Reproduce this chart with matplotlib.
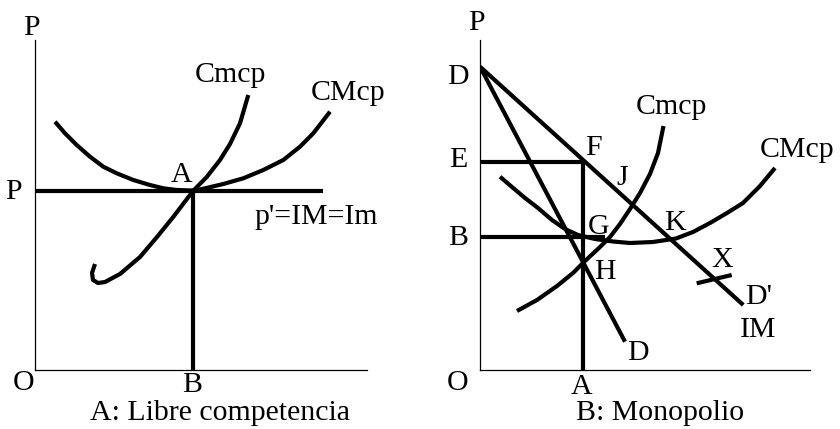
import matplotlib
matplotlib.use("Agg")
import matplotlib.pyplot as plt

plt.rcParams['font.family'] = ['Liberation Serif', 'DejaVu Serif']

# Panel A: libre competencia
cmcp_a_x = [6.0, 5.7, 5.8, 6.3, 7.0, 8.5, 10.5, 12.2, 13.9, 15.8, 17.17, 18.5, 19.5, 20.5, 21.33]
cmcp_a_y = [10.6, 9.7, 9.0, 8.7, 8.8, 9.6, 11.3, 13.3, 15.4, 17.9, 19.3, 21.0, 22.6, 24.67, 27.5]
cmecp_a_x = [2.0, 3.0, 4.17, 5.5, 6.83, 8.17, 9.83, 11.5, 12.83, 14.17, 15.6, 16.5, 18.83,
             20.83, 22.83, 24.83, 26.5, 27.83, 29.5]
cmecp_a_y = [24.83, 23.67, 22.5, 21.33, 20.33, 19.67, 19.0, 18.5, 18.17, 18.0, 17.95, 18.05,
             18.6, 19.17, 20.0, 21.0, 22.33, 23.67, 25.83]
precio_a = 17.9
q_a = 15.8
precio_a_fin = 28.8

# Panel B: monopolio
d_x = [0.0, 26.33]
d_y = [30.33, 6.5]
im_x = [0.0, 14.5]
im_y = [30.33, 2.83]
cmcp_b_x = [3.7, 5.7, 7.7, 9.3, 10.5, 12.0, 13.0, 14.0, 15.0, 16.0, 17.0, 17.8, 18.35]
cmcp_b_y = [5.9, 7.0, 8.4, 9.7, 10.9, 12.3, 13.3, 14.6, 16.1, 17.7, 19.6, 21.7, 24.4]
cmecp_b_x = [2.0, 3.2, 4.5, 5.8, 7.2, 8.5, 9.8, 11.5, 13.3, 15.0, 17.3, 19.6, 21.3, 23.0,
             24.7, 26.3, 28.0, 29.5]
cmecp_b_y = [19.33, 18.3, 17.2, 16.2, 15.0, 14.1, 13.5, 13.1, 12.85, 12.7, 12.8, 13.15, 13.8,
             14.7, 15.7, 16.7, 18.4, 20.2]
q_b = 10.33
precio_e = 20.83
precio_b = 13.33
precio_b_fin = 12.5
x_seg_x = [21.67, 25.17]
x_seg_y = [8.67, 9.5]

labels_a = [("P", -0.33, 34.17), ("P", -2.17, 17.83), ("O", -1.17, -1.3), ("B", 15.67, -1.5),
            ("A", 14.67, 19.5), ("Cmcp", 19.5, 29.5), ("CMcp", 31.3, 27.7),
            ("p'=IM=Im", 28.1, 15.33)]
labels_b = [("P", -0.33, 34.67), ("D", -2.17, 29.33), ("E", -2.17, 21.0), ("B", -2.17, 13.17),
            ("O", -2.2, -1.3), ("A", 10.17, -1.67), ("D", 15.83, 1.67), ("Cmcp", 19.17, 26.33),
            ("CMcp", 31.67, 22.0), ("F", 11.33, 22.17), ("J", 14.17, 19.17), ("G", 11.83, 14.33),
            ("K", 19.5, 14.67), ("H", 12.5, 9.83), ("X", 24.17, 11.0), ("D'", 27.83, 7.33),
            ("IM", 27.83, 4.0)]

W, H = 840, 429
fig = plt.figure(figsize=(8.4, 4.29), dpi=100)
ax1 = fig.add_axes([35 / W, 59 / H, 332 / W, 330 / H])
ax2 = fig.add_axes([480 / W, 59 / H, 330 / W, 330 / H])

lw = 3.0
kw = dict(color="black", lw=lw, solid_capstyle="butt", solid_joinstyle="round")

for ax in (ax1, ax2):
    for s in ("top", "right"):
        ax.spines[s].set_visible(False)
    for s in ("left", "bottom"):
        ax.spines[s].set_linewidth(0.9)
    ax.set_xticks([])
    ax.set_yticks([])
    ax.set_facecolor("none")

ax1.set_xlim(0, 33.2)
ax1.set_ylim(0, 33)
ax2.set_xlim(0, 33)
ax2.set_ylim(0, 33)

# panel A
ax1.plot(cmecp_a_x, cmecp_a_y, **kw)
ax1.plot(cmcp_a_x, cmcp_a_y, **kw)
ax1.plot([0, precio_a_fin], [precio_a, precio_a], **kw)
ax1.plot([q_a, q_a], [0, precio_a], **kw)

# panel B
ax2.plot(d_x, d_y, **kw)
ax2.plot(im_x, im_y, **kw)
ax2.plot(cmecp_b_x, cmecp_b_y, **kw)
ax2.plot(cmcp_b_x, cmcp_b_y, **kw)
ax2.plot([0, q_b], [precio_e, precio_e], **kw)
ax2.plot([q_b, q_b], [0, precio_e], **kw)
ax2.plot([0, precio_b_fin], [precio_b, precio_b], **kw)
ax2.plot(x_seg_x, x_seg_y, **kw)

fs = 21.5
for ax, labs in ((ax1, labels_a), (ax2, labels_b)):
    for t, x, y in labs:
        ax.text(x, y, t, fontsize=fs, ha="center", va="center", clip_on=False)

ax1.text(18.5, -4.3, "A: Libre competencia", fontsize=fs, ha="center", va="center")
ax2.text(18.0, -4.3, "B: Monopolio", fontsize=fs, ha="center", va="center")

fig.savefig("out.png", dpi=100, facecolor="white")
